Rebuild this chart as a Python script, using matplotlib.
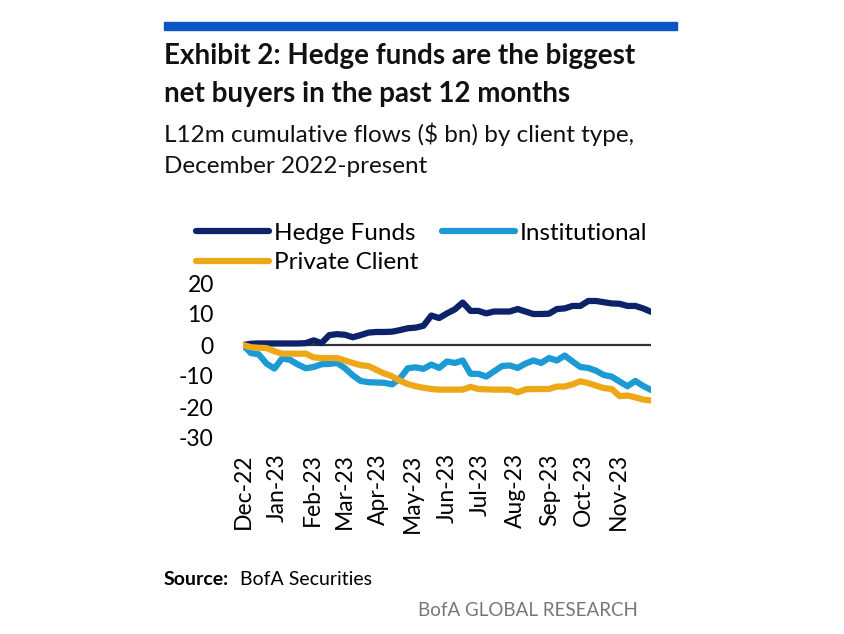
import pandas as pd
import matplotlib.pyplot as plt
import matplotlib.dates as mdates

# weekly cumulative flows ($ bn)
dates = pd.date_range("2022-12-01", periods=53, freq="7D")

hedge_funds = [0, 0.4, 0.5, 0.5, 0.5, 0.5, 0.5, 0.5, 0.6, 1.5, 0.6, 3.2, 3.5, 3.3, 2.5, 3.2,
               4.0, 4.2, 4.2, 4.3, 4.8, 5.4, 5.6, 6.2, 9.5, 8.7, 10.2, 11.5, 13.7, 11.0, 11.0,
               10.2, 10.8, 10.8, 10.8, 11.6, 10.8, 10.0, 10.0, 10.1, 11.6, 11.8, 12.6, 12.6,
               14.2, 14.2, 13.8, 13.4, 13.3, 12.6, 12.6, 11.8, 10.7]
institutional = [0, -2.6, -3.0, -6.0, -7.6, -4.3, -4.8, -6.3, -7.5, -7.1, -6.2, -6.1, -5.8,
                 -7.5, -9.8, -11.6, -12.0, -12.1, -12.2, -12.7, -10.8, -7.5, -7.2, -7.7, -6.3,
                 -7.4, -5.3, -5.8, -5.0, -9.3, -9.3, -10.2, -8.5, -6.8, -6.6, -7.4, -6.0, -5.0,
                 -5.8, -4.2, -5.0, -3.4, -5.3, -7.1, -7.4, -8.3, -9.7, -10.2, -11.8, -13.3,
                 -11.6, -13.2, -14.5]
private_client = [0, -0.7, -0.9, -1.0, -2.0, -2.8, -2.8, -2.8, -2.8, -4.0, -4.2, -4.2, -4.2,
                  -5.0, -5.8, -6.5, -6.8, -8.0, -9.2, -10.1, -11.5, -12.6, -13.3, -13.8, -14.2,
                  -14.4, -14.4, -14.4, -14.4, -13.5, -14.2, -14.3, -14.4, -14.4, -14.4, -15.3,
                  -14.3, -14.2, -14.2, -14.2, -13.4, -13.4, -12.7, -11.7, -12.3, -13.1, -13.9,
                  -14.2, -16.5, -16.3, -16.9, -17.6, -17.9]
y_ticks = [20, 10, 0, -10, -20, -30]

W, H = 845, 634
plt.rcParams['font.family'] = ['Lato', 'DejaVu Sans']
plt.rcParams['axes.unicode_minus'] = False
fig = plt.figure(figsize=(W / 100, H / 100), dpi=100)

def fx(px):
    return px / W

def fy(py):
    return 1 - py / H

# blue header bar
fig.patches.append(plt.Rectangle((fx(164), fy(30)), fx(677) - fx(164), fy(22) - fy(30),
                                 transform=fig.transFigure, color="#0B55C4", zorder=5))

fig.text(fx(164), fy(64), "Exhibit 2: Hedge funds are the biggest", fontsize=20,
         fontweight="bold", va="baseline", color="#111111")
fig.text(fx(164), fy(102), "net buyers in the past 12 months", fontsize=20,
         fontweight="bold", va="baseline", color="#111111")
fig.text(fx(164), fy(142), "L12m cumulative flows ($ bn) by client type,", fontsize=17.5,
         va="baseline", color="#111111")
fig.text(fx(164), fy(173), "December 2022-present", fontsize=17.5,
         va="baseline", color="#111111")

ax = fig.add_axes([fx(243), fy(438), fx(651) - fx(243), fy(283) - fy(438)])
l1, = ax.plot(dates, hedge_funds, color="#0C2369", lw=4.5, solid_capstyle="round", zorder=3)
l2, = ax.plot(dates, institutional, color="#1C9AD6", lw=4.5, solid_capstyle="round", zorder=3)
l3, = ax.plot(dates, private_client, color="#EEA817", lw=4.5, solid_capstyle="round", zorder=3)
ax.axhline(0, color="#333333", lw=1.6, zorder=2)

ax.set_xlim(dates[0], dates[-1])
ax.set_ylim(-30, 20)
ax.set_yticks(y_ticks)
ax.xaxis.set_major_locator(mdates.MonthLocator())
ax.xaxis.set_major_formatter(mdates.DateFormatter("%b-%y"))
ax.tick_params(axis="y", length=0, pad=21, labelsize=16.5)
ax.tick_params(axis="x", length=0, pad=11, labelsize=16.5, rotation=90)
for s in ax.spines.values():
    s.set_visible(False)
ax.patch.set_visible(False)

# order so that Hedge Funds / Institutional share the first row
fig.legend([l1, l3, l2], ["Hedge Funds", "Private Client", "Institutional"],
           ncol=2, loc="upper left", bbox_to_anchor=(fx(186), fy(213)), frameon=False,
           fontsize=17.5, handlelength=3.0, handletextpad=0.2, columnspacing=1.0,
           labelspacing=0.35, borderaxespad=0)

fig.text(fx(164), fy(585), "Source:", fontsize=14, fontweight="bold", va="baseline")
fig.text(fx(240), fy(585), "BofA Securities", fontsize=14, va="baseline")
fig.text(fx(638), fy(616), "BofA GLOBAL RESEARCH", fontsize=13.5, ha="right",
         va="baseline", color="#777777")

fig.savefig("out.png", dpi=100)
